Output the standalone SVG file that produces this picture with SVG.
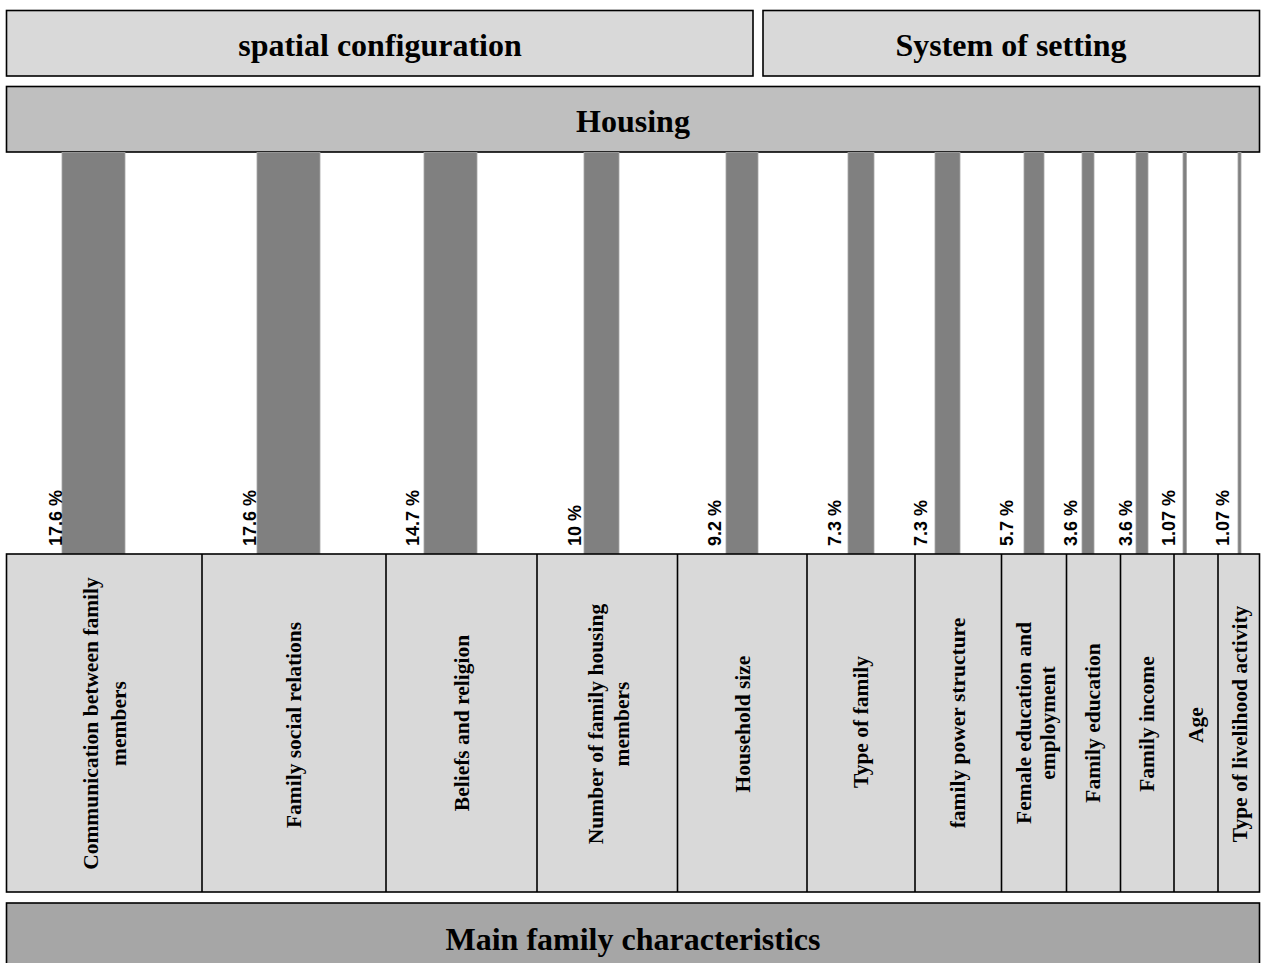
<svg xmlns="http://www.w3.org/2000/svg" width="1261" height="963" viewBox="0 0 1261 963">
  <style>
    .box { stroke: #000; stroke-width: 1.6; }
    .light { fill: #d9d9d9; }
    .mid { fill: #bfbfbf; }
    .dark { fill: #a6a6a6; }
    .title { font-family: "Liberation Serif", "Times New Roman", serif; font-weight: bold; font-size: 32px; fill: #000; text-anchor: middle; }
    .cat { font-family: "Liberation Serif", "Times New Roman", serif; font-weight: bold; font-size: 21.5px; fill: #000; text-anchor: middle; }
    .pct { font-family: "Liberation Sans", Arial, sans-serif; font-weight: bold; font-size: 18px; fill: #000; text-anchor: start; }
    .bar { fill: #808080; stroke: #a6a6a6; stroke-width: 0.8; }
    .divider { stroke: #000; stroke-width: 1.6; }
  </style>
  <rect width="1261" height="963" fill="#fff"/>

  <!-- upper headings -->
  <g id="spatial-configuration">
    <rect class="box light" x="6.5" y="10.5" width="746.5" height="65.5"/>
    <text class="title" x="380" y="56">spatial configuration</text>
  </g>
  <g id="system-of-setting">
    <rect class="box light" x="763" y="10.5" width="496.5" height="65.5"/>
    <text class="title" x="1011" y="56">System of setting</text>
  </g>
  <g id="housing">
    <rect class="box mid" x="6.5" y="86.5" width="1253" height="65.5"/>
    <text class="title" x="633" y="132">Housing</text>
  </g>

  <!-- share bars linking characteristics to housing -->
  <g id="connectors">
    <rect class="bar" x="62" y="152.5" width="63" height="401.5"/>
    <rect class="bar" x="257" y="152.5" width="63" height="401.5"/>
    <rect class="bar" x="424" y="152.5" width="53" height="401.5"/>
    <rect class="bar" x="584" y="152.5" width="35" height="401.5"/>
    <rect class="bar" x="726" y="152.5" width="32" height="401.5"/>
    <rect class="bar" x="848" y="152.5" width="26" height="401.5"/>
    <rect class="bar" x="935" y="152.5" width="25" height="401.5"/>
    <rect class="bar" x="1024" y="152.5" width="20" height="401.5"/>
    <rect class="bar" x="1082" y="152.5" width="12" height="401.5"/>
    <rect class="bar" x="1136" y="152.5" width="12" height="401.5"/>
    <rect class="bar" x="1183" y="152.5" width="3.5" height="401.5"/>
    <rect class="bar" x="1238" y="152.5" width="3" height="401.5"/>
  </g>

  <!-- percentage labels -->
  <g id="percentages">
    <text class="pct" transform="translate(61.5,546) rotate(-90)">17.6 %</text>
    <text class="pct" transform="translate(256,546) rotate(-90)">17.6 %</text>
    <text class="pct" transform="translate(419,546) rotate(-90)">14.7 %</text>
    <text class="pct" transform="translate(581,546) rotate(-90)">10 %</text>
    <text class="pct" transform="translate(721,546) rotate(-90)">9.2 %</text>
    <text class="pct" transform="translate(841,546) rotate(-90)">7.3 %</text>
    <text class="pct" transform="translate(927,546) rotate(-90)">7.3 %</text>
    <text class="pct" transform="translate(1013,546) rotate(-90)">5.7 %</text>
    <text class="pct" transform="translate(1077,546) rotate(-90)">3.6 %</text>
    <text class="pct" transform="translate(1132,546) rotate(-90)">3.6 %</text>
    <text class="pct" transform="translate(1175,546) rotate(-90)">1.07 %</text>
    <text class="pct" transform="translate(1229,546) rotate(-90)">1.07 %</text>
  </g>

  <!-- characteristic cells -->
  <g id="characteristics-row">
    <rect class="box light" x="6.5" y="554" width="1253" height="338"/>
  </g>
  <g id="communication">
    <line class="divider" x1="202" y1="554" x2="202" y2="892"/>
    <text class="cat" transform="translate(98,723.5) rotate(-90)">Communication between family</text>
    <text class="cat" transform="translate(126,723.5) rotate(-90)">members</text>
  </g>
  <g id="social-relations">
    <line class="divider" x1="386" y1="554" x2="386" y2="892"/>
    <text class="cat" transform="translate(301,725) rotate(-90)">Family social relations</text>
  </g>
  <g id="beliefs">
    <line class="divider" x1="537" y1="554" x2="537" y2="892"/>
    <text class="cat" transform="translate(469,723) rotate(-90)">Beliefs and religion</text>
  </g>
  <g id="housing-members">
    <line class="divider" x1="677.5" y1="554" x2="677.5" y2="892"/>
    <text class="cat" transform="translate(603,724) rotate(-90)">Number of family housing</text>
    <text class="cat" transform="translate(629,724) rotate(-90)">members</text>
  </g>
  <g id="household-size">
    <line class="divider" x1="807" y1="554" x2="807" y2="892"/>
    <text class="cat" transform="translate(750,724) rotate(-90)">Household size</text>
  </g>
  <g id="family-type">
    <line class="divider" x1="915" y1="554" x2="915" y2="892"/>
    <text class="cat" transform="translate(868,722) rotate(-90)">Type of family</text>
  </g>
  <g id="power-structure">
    <line class="divider" x1="1001.5" y1="554" x2="1001.5" y2="892"/>
    <text class="cat" transform="translate(965,723) rotate(-90)">family power structure</text>
  </g>
  <g id="female-education">
    <line class="divider" x1="1066.5" y1="554" x2="1066.5" y2="892"/>
    <text class="cat" transform="translate(1031,723) rotate(-90)">Female education and</text>
    <text class="cat" transform="translate(1055,723) rotate(-90)">employment</text>
  </g>
  <g id="family-education">
    <line class="divider" x1="1120.5" y1="554" x2="1120.5" y2="892"/>
    <text class="cat" transform="translate(1100,723) rotate(-90)">Family education</text>
  </g>
  <g id="family-income">
    <line class="divider" x1="1174" y1="554" x2="1174" y2="892"/>
    <text class="cat" transform="translate(1154,724) rotate(-90)">Family income</text>
  </g>
  <g id="age">
    <line class="divider" x1="1218" y1="554" x2="1218" y2="892"/>
    <text class="cat" transform="translate(1203,725) rotate(-90)">Age</text>
  </g>
  <g id="livelihood">
    <text class="cat" transform="translate(1247,724) rotate(-90)">Type of livelihood activity</text>
  </g>

  <!-- base banner -->
  <g id="main-characteristics">
    <rect class="box dark" x="6.5" y="903" width="1253" height="75"/>
    <text class="title" x="633" y="950">Main family characteristics</text>
  </g>
</svg>
